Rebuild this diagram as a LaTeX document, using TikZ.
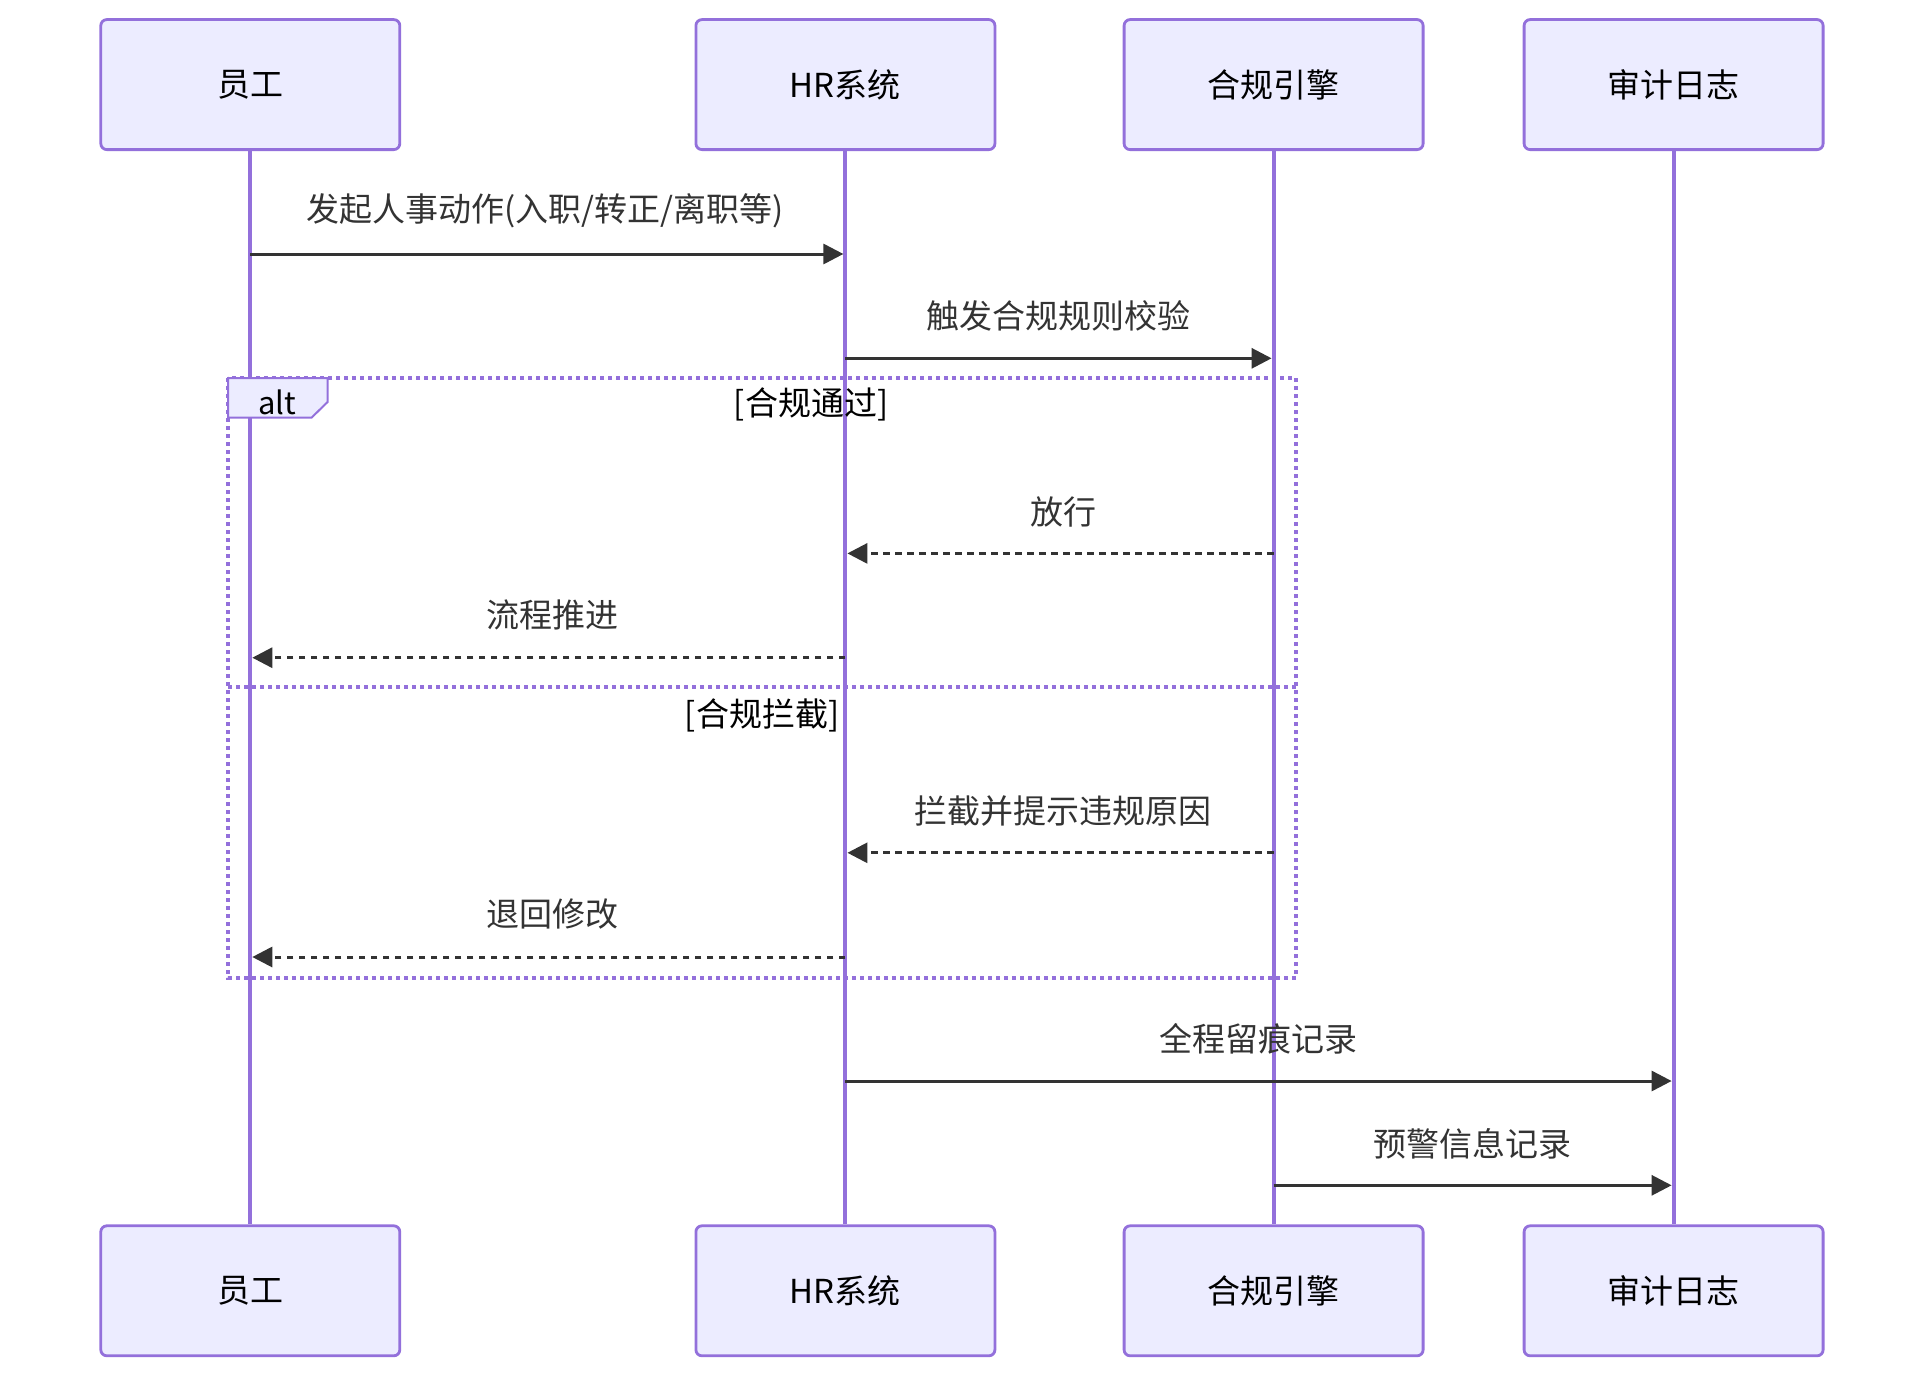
\documentclass[tikz,border=0pt]{standalone}
\usepackage{fontspec}
\setmainfont{Noto Sans CJK SC}
\usetikzlibrary{arrows.meta}
\definecolor{purp}{HTML}{9370DB}
\definecolor{boxfill}{HTML}{ECECFF}
\definecolor{txt}{HTML}{333333}
\tikzset{
  actor/.style={draw=purp, fill=boxfill, line width=2.8pt, rounded corners=6pt,
    minimum width=299pt, minimum height=130pt, inner sep=0pt, text=black,
    font=\fontsize{33}{38}\selectfont},
  lifeline/.style={draw=purp, line width=4pt},
  msg/.style={draw=txt, line width=3pt, -{Triangle[length=20pt,width=20pt]}, shorten >=2pt},
  reply/.style={msg, dash pattern=on 6.5pt off 5.5pt},
  mlabel/.style={text=txt, font=\fontsize{33}{38}\selectfont, inner sep=0pt},
  frame/.style={draw=purp, line width=4pt, dash pattern=on 4pt off 4pt},
  cond/.style={text=black, font=\fontsize{33}{38}\selectfont, inner sep=0pt},
}
\begin{document}
\begin{tikzpicture}[x=1pt,y=-1pt]
\useasboundingbox (0,0) rectangle (1924,1378);
% actors
\node[actor] (a1) at (250.3,84.6) {\raisebox{-2.5pt}{员工}};
\node[actor] (a2) at (845.4,84.6) {\raisebox{-2.5pt}{HR系统}};
\node[actor] (a3) at (1273.6,84.6) {\raisebox{-2.5pt}{合规引擎}};
\node[actor] (a4) at (1673.6,84.6) {\raisebox{-2.5pt}{审计日志}};
\node[actor] (b1) at (250.3,1290.8) {\raisebox{-2.5pt}{员工}};
\node[actor] (b2) at (845.4,1290.8) {\raisebox{-2.5pt}{HR系统}};
\node[actor] (b3) at (1273.6,1290.8) {\raisebox{-2.5pt}{合规引擎}};
\node[actor] (b4) at (1673.6,1290.8) {\raisebox{-2.5pt}{审计日志}};
% alt frame
\draw[frame] (228,378) rectangle (1296,978);
\draw[frame] (228,687) -- (1296,687);
% lifelines
\draw[lifeline] (a1.south) -- (b1.north);
\draw[lifeline] (a2.south) -- (b2.north);
\draw[lifeline] (a3.south) -- (b3.north);
\draw[lifeline] (a4.south) -- (b4.north);
\draw[draw=purp, fill=boxfill, line width=2pt] (228,378) -- (327.6,378) -- (327.6,402) -- (311.7,417.5) -- (228,417.5) -- cycle;
\node[cond, font=\fontsize{31}{36}\selectfont] (altlbl) at (277,402) {alt};
\node[cond] (c1) at (811,404.5) {[合规通过]};
\node[cond] (c2) at (762,715.5) {[合规拦截]};
% message anchor coordinates
\coordinate (p1a) at (a1 |- 0,254);    \coordinate (p1b) at (a2 |- 0,254);
\coordinate (p2a) at (a2 |- 0,358.3);  \coordinate (p2b) at (a3 |- 0,358.3);
\coordinate (p3a) at (a3 |- 0,553.4);  \coordinate (p3b) at (a2 |- 0,553.4);
\coordinate (p4a) at (a2 |- 0,657.7);  \coordinate (p4b) at (a1 |- 0,657.7);
\coordinate (p5a) at (a3 |- 0,852.8);  \coordinate (p5b) at (a2 |- 0,852.8);
\coordinate (p6a) at (a2 |- 0,957);    \coordinate (p6b) at (a1 |- 0,957);
\coordinate (p7a) at (a2 |- 0,1081);   \coordinate (p7b) at (a4 |- 0,1081);
\coordinate (p8a) at (a3 |- 0,1185.3); \coordinate (p8b) at (a4 |- 0,1185.3);
% messages
\draw[msg] (p1a) -- (p1b);
\node[mlabel] (l1) at (545,211) {发起人事动作(入职/转正/离职等)};
\draw[msg] (p2a) -- (p2b);
\node[mlabel] (l2) at (1058,315.4) {触发合规规则校验};
\draw[reply] (p3a) -- (p3b);
\node[mlabel] (l3) at (1063,511.5) {放行};
\draw[reply] (p4a) -- (p4b);
\node[mlabel] (l4) at (552,614.5) {流程推进};
\draw[reply] (p5a) -- (p5b);
\node[mlabel] (l5) at (1063,811) {拦截并提示违规原因};
\draw[reply] (p6a) -- (p6b);
\node[mlabel] (l6) at (552,914) {退回修改};
\draw[msg] (p7a) -- (p7b);
\node[mlabel] (l7) at (1258,1039.3) {全程留痕记录};
\draw[msg] (p8a) -- (p8b);
\node[mlabel] (l8) at (1472,1143.5) {预警信息记录};
\end{tikzpicture}
\end{document}
